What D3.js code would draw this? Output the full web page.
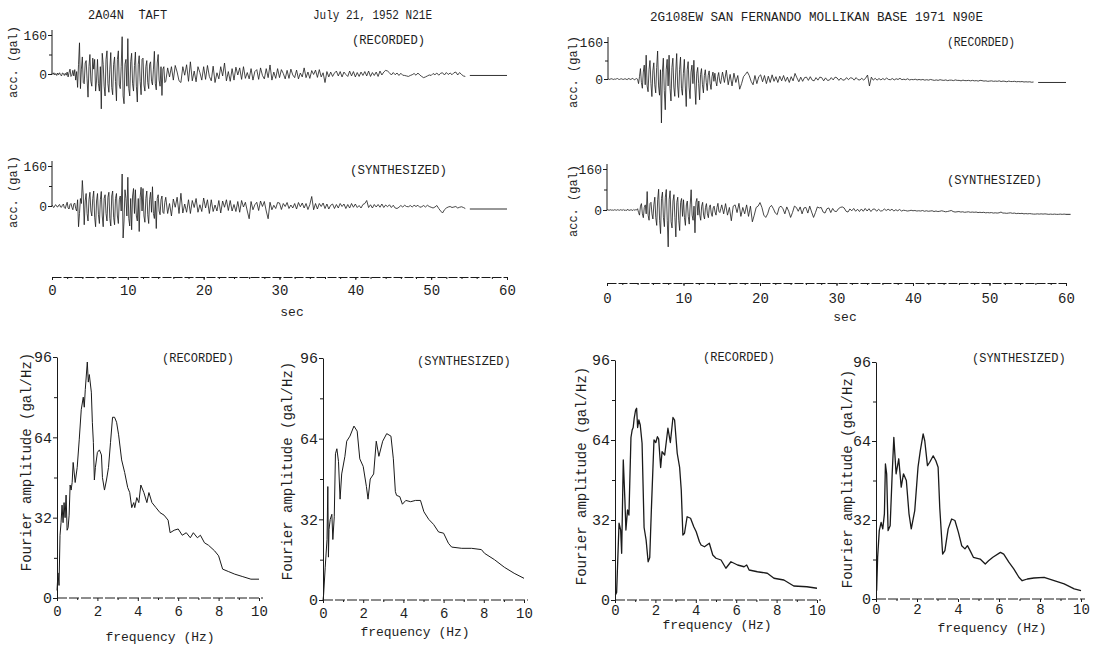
<!DOCTYPE html>
<html><head><meta charset="utf-8">
<script src="https://cdn.jsdelivr.net/npm/d3@7"></script>
<style>
body{margin:0;background:#fff}
svg text{font-family:"Liberation Mono","DejaVu Sans Mono",monospace;fill:#1e1e1e;white-space:pre}
</style></head><body>
<svg id="fig" width="1117" height="645"></svg>
<script>
// ---- axis ticks ----
const timeTicks = [0, 10, 20, 30, 40, 50, 60];
const timeMinor = d3.range(0, 61, 2);
const accTicks = [0, 160];
const accMinor = [80];
const freqTicks = [0, 2, 4, 6, 8, 10];
const freqMinor = [1, 3, 5, 7, 9];
const ampTicks = [0, 32, 64, 96];
const ampMinor = [16, 48, 80];

// ---- accelerograms (gal) ----
// strong phase: every 0.125 s from t = 0; coda: every 0.25 s from t = 15 s
const dtStrong = 0.125, dtCoda = 0.25, codaStart = 15;

const taftRecStrong = [
  3,-2,5,-4,2,-6,4,-3,  5,-3,-8,4,2,-6,3,-5,  8,-12,6,20,-10,-5,15,-8,
  18,-25,10,-55,40,128,-60,20,  70,-35,-40,45,55,-20,-95,30,  80,-30,-50,65,20,60,-70,-25,
  60,-40,-70,30,-143,85,40,-50,  -90,60,95,-40,-75,20,88,-55,  -85,40,70,-30,-110,60,95,-45,
  -60,30,153,-90,-122,40,60,-50,  145,-60,-90,50,85,-40,-70,35,  90,-50,-115,40,75,-30,-85,60,
  65,-45,-70,30,55,-35,-60,40,  50,-30,-45,20,93,-40,-65,45,  80,-25,-50,30,-88,20,30,-35
];
const taftRecCoda = [
  -30,25,-12,30, -25,35,8,-28, -35,30,-5,38, -30,50,-28,12, -32,30,6,-25,
  30,-22,35,-10, -28,32,-35,5, -20,30,-8,45, -28,10,-30,22, -25,28,-4,25,
  -22,30,-18,6, -20,22,-25,10, 18,-22,25,-6, -20,22,-15,37, -25,8,-18,22,
  -15,18,2,-20, 15,-18,20,-4, -15,16,-20,4, -12,25,-15,8, -18,14,-2,16,
  -14,18,-12,5, -35,10,-12,8, -10,4,12,-8, 10,-12,8,-2, -10,12,-8,10,
  -12,6,-10,8, -6,10,-8,12, -10,6,-6,8, -10,12,-4,8, 15,12,5,-4,
  6,-3,4,-6, 3,-5,-6,-8, -10,-6,-3,2, -5,4,-4,-10, -15,-12,-8,-4,
  -6,2,-3,4, -5,3,5,-4, 6,-2,4,-3, 5,8,-4,6, -2,-8,-10
];
const taftRecTail = -6;

const taftSynStrong = [
  4,-3,-6,2,5,-2,-4,3,  6,-4,-5,3,8,-6,-10,4,  15,-8,-12,6,10,-5,-15,8,
  12,-10,-20,25,-83,-30,30,10,  102,40,-75,20,50,-30,-60,25,  55,-20,-40,30,60,-45,-83,20,
  50,-35,-70,25,58,-40,-83,30,  45,-30,-60,35,55,-50,-80,40,  60,-45,-75,30,50,-40,-70,25,
  40,-20,128,-128,-60,65,30,-40,  115,-50,-80,30,-95,40,70,-30,  65,-40,-60,30,-102,35,75,-20,
  70,-40,-65,30,60,-35,-70,25,  55,-25,77,-30,-50,20,-90,30,  45,-20,-35,25,40,-25,-30,15
];
const taftSynCoda = [
  35,-30,10,-40, 28,-5,35,-30, 51,-28,8,-25, 25,-30,22,-6, 30,-25,5,-22,
  32,-8,25,-30, 25,-22,4,-20, 22,-28,20,-5, 25,-18,22,-20, 6,-22,18,-25,
  22,-4,15,-20, -51,18,-15,5, 15,-18,20,-2, 18,-20,-51,15, -15,3,-10,14,
  12,-14,10,-2, 14,-10,4,-8, 10,-12,14,-3, 12,-8,10,-14, 6,38,-15,10,
  -12,10,-2,12, -10,8,-12,3, 8,-10,6,-8, 10,-2,8,-10, 6,-8,10,-5,
  8,-6,2,-8, 6,10,22,-6, 5,-8,6,-4, 6,-5,8,-6, 4,-3,5,-6,
  3,-8,-10,-5, 2,-4,3,-2, -3,2,-4,3, -2,3,-5,-3, 2,-4,3,-2,
  -5,-8,-4,2, -10,-20,-28,-15, -8,-4,-2,-6, -4,-2,-8,-5, -3,-6,-10
];
const taftSynTail = -12;

const sfRecStrong = [
  0,-1,-2,1,1,-1,-2,0,  -1,1,2,-1,-2,0,1,-1,  -2,0,1,-1,-3,1,2,-1,
  -2,1,3,-2,-3,0,2,-1,  -20,10,45,-15,-40,30,60,-25,  103,-30,-55,40,80,-20,-76,35,
  70,-25,-60,50,121,-30,-70,40,  -190,30,90,-50,-133,40,85,-30,  103,-40,-95,50,90,-35,-75,30,
  110,-30,-80,40,95,-40,-70,25,  85,-30,-119,40,75,-35,-85,30,  60,-20,81,-30,-110,25,50,-20,
  -90,20,45,-25,-60,15,40,-15,  -50,15,35,-20,-45,10,30,-10,  25,-10,-30,10,28,-8,-20,5
];
const sfRecCoda = [
  30,-15,38,-25, 20,-30,25,-15, 15,-44,-20,10, 20,31,15,-10, -25,15,-20,10,
  18,-12,15,-20, 12,-15,18,-10, 10,-15,12,-8, 15,-10,8,-15, 10,-8,24,5,
  -12,8,-10,6, 8,-6,10,-5, -8,6,-5,8, 6,-8,5,-6, -5,6,-4,8,
  5,-6,4,-5, -4,6,-3,5, 4,-5,6,-3, -4,3,-5,4, 17,-30,8,-5,
  3,-5,2,-4, 2,-3,4,-2, -3,2,-4,1, -2,3,-3,-1, -3,1,-4,-2,
  -3,-1,-4,-2, -4,-2,-5,-3, -5,-2,-4,-6, -4,-6,-3,-5, -6,-4,-7,-5,
  -5,-7,-4,-6, -6,-8,-5,-7, -7,-6,-8,-6, -8,-7,-9,-6, -7,-9,-8,-10,
  -9,-8,-10,-9, -10,-8,-11,-9, -10,-12,-9,-11, -11,-10,-12,-11, -12,-11,-13,-12,
  -13,-12,-14,-13
];
const sfRecTail = -15;

const sfSynStrong = [
  0,1,-1,0,1,-1,0,-1,  1,0,-1,1,0,-1,1,0,  -1,2,-2,1,-3,2,1,-1,
  -1,1,0,-2,2,-1,1,0,  5,-10,-20,15,25,-15,-30,10,  20,-15,72,-20,-40,25,30,-15,
  -35,20,50,-30,-60,40,81,-40,  -92,45,70,-30,-65,50,80,-40,  -144,40,75,-45,-70,35,60,-30,
  -105,30,50,-40,-80,30,45,-25,  40,-30,-60,20,35,-25,-55,20,  79,-20,-40,15,-89,30,45,-20,
  35,-20,-40,15,30,-20,-35,10,  25,-15,-30,10,20,-12,-25,8,  15,-8,-20,10,26,-5,-10,5
];
const sfSynCoda = [
  20,-15,25,-20, 10,-42,15,20, -10,26,-25,10, -15,20,-25,15, -46,-20,10,15,
  29,10,-20,-29, -15,10,18,5, -12,-18,10,15, 5,-15,12,-5, -29,-10,15,10,
  -5,12,-15,8, 10,-12,15,-8, -29,-10,12,8, 10,-8,-12,5, 8,-10,6,-5,
  -6,5,10,12, 8,-5,-8,4, -3,6,-5,3, -6,4,-5,6, -4,5,-6,3,
  4,-5,3,-4, -3,4,-2,3, -2,3,-4,1, -3,2,-4,-1, -2,-4,-3,-1,
  -3,-2,-4,-3, -4,-2,-5,-3, -5,-4,-3,-6, -4,-6,-5,-3, -5,-7,-6,-4,
  -2,-6,-8,-7, -6,-8,-7,-9, -8,-7,-9,-8, -9,-8,-10,-9, -10,-9,-11,-10,
  -11,-10,-12,-11, -12,-11,-8,-12, -12,-13,-12,-11, -13,-12,-14,-13, -14,-13,-15,-14,
  -15,-14,-15,-16, -16,-15,-16,-15, -16,-15,-16,-17, -16,-17,-16,-17, -17,-16,-17,-16, -17
];
const sfSynTail = -17;

// ---- Fourier amplitude spectra: [frequency (Hz), amplitude (gal/Hz)] ----
const taftRecSpectrum = [
  [0,3],[0.05,10],[0.1,5],[0.15,25],[0.2,30],[0.25,37],[0.3,30],[0.35,38],[0.4,32],[0.45,41],
  [0.5,27],[0.55,28],[0.6,33],[0.65,45],[0.7,43],[0.75,46],[0.8,54],[0.9,46],[1.0,52],[1.1,63],
  [1.2,75],[1.3,80],[1.35,76],[1.4,83],[1.5,94],[1.55,86],[1.6,89],[1.7,82],[1.75,70],[1.8,62],
  [1.85,47],[1.9,52],[2.0,58],[2.1,59],[2.2,57],[2.25,48],[2.35,43],[2.45,47],[2.55,52],[2.65,62],
  [2.75,72],[2.85,72],[2.95,70],[3.05,65],[3.2,55],[3.35,50],[3.5,44],[3.6,42],[3.7,36],[3.8,38],
  [3.85,36],[3.95,40],[4.05,38],[4.15,45],[4.3,42],[4.45,38],[4.55,42],[4.7,38],[4.9,36],[5.1,34],
  [5.3,33],[5.5,31],[5.6,26],[5.8,27],[6.0,27.5],[6.2,25],[6.4,26],[6.6,24],[6.75,26],[6.95,24],
  [7.1,25],[7.3,22],[7.5,21],[7.8,18.8],[8.0,16.8],[8.2,11.5],[8.5,10.5],[8.8,9.5],[9.2,8.5],[9.6,7.5],
  [10.0,7.5]
];
const taftSynSpectrum = [
  [0,0],[0.03,2],[0.11,13],[0.2,24],[0.24,45],[0.27,17],[0.3,28],[0.36,32],[0.44,34],[0.49,24],
  [0.56,33],[0.62,58],[0.69,60],[0.77,55],[0.85,40],[0.93,50],[1.09,57],[1.18,63],[1.34,65],[1.54,69],
  [1.7,67],[1.83,56],[2.0,53],[2.16,45],[2.24,40],[2.35,48],[2.52,50],[2.65,63],[2.78,57],[2.97,63],
  [3.17,66],[3.38,65],[3.5,56],[3.6,43],[3.66,41.5],[3.82,41],[3.95,38],[4.12,39.5],[4.36,39],[4.6,39.5],
  [4.85,39.5],[5.02,35],[5.26,32],[5.5,30],[5.75,27],[6.0,26.5],[6.24,22.5],[6.4,21],[6.9,20.5],[7.39,20.5],
  [7.88,20],[8.04,18.5],[8.53,16],[9.02,13],[9.51,10.6],[10.0,8.6]
];
const sfRecSpectrum = [
  [0.02,2],[0.08,3],[0.2,30.7],[0.28,28],[0.33,18.7],[0.41,56],[0.49,40],[0.54,28],[0.62,36],[0.69,34],
  [0.79,65],[0.85,68],[0.9,69],[0.95,72.7],[1.02,76],[1.07,76.7],[1.12,69],[1.18,72],[1.25,70],[1.34,62.7],
  [1.44,29],[1.54,24],[1.64,15.3],[1.72,17],[1.8,36],[1.93,64],[2.02,63],[2.1,65.3],[2.16,64.5],[2.26,53],
  [2.33,59.3],[2.46,58],[2.62,68.7],[2.74,63],[2.87,73],[2.95,72],[3.08,58.7],[3.2,53],[3.28,44],[3.36,26],
  [3.44,26.7],[3.57,33.3],[3.74,32.7],[3.9,29.3],[4.02,27.3],[4.18,23.3],[4.26,22],[4.43,21.3],[4.67,22.7],[4.84,18],
  [5.0,16.7],[5.25,16],[5.49,12.7],[5.74,15.3],[6.07,14],[6.39,13.3],[6.52,14],[6.64,12],[7.05,11.3],[7.54,10.7],
  [7.87,8.7],[8.36,8],[8.85,5.6],[9.5,5.3],[10,4.7]
];
const sfSynSpectrum = [
  [0.03,3.4],[0.08,17],[0.16,27.7],[0.25,31],[0.33,28.4],[0.41,34.5],[0.46,54.7],[0.52,50.7],[0.59,27.7],[0.69,29.7],
  [0.79,50.7],[0.87,65.5],[0.98,50.7],[1.11,56.8],[1.23,45.3],[1.34,50.7],[1.48,48],[1.61,34.5],[1.72,28.4],[1.89,35.8],
  [2.05,53.4],[2.16,60],[2.3,66.9],[2.38,64],[2.51,54],[2.62,55.4],[2.79,58],[2.92,56],[3.03,53.4],[3.11,37],
  [3.25,18.2],[3.36,19.6],[3.52,28.4],[3.69,32.4],[3.85,31.8],[4.02,27],[4.18,21.6],[4.34,20.3],[4.46,21.6],[4.59,19.6],
  [4.75,16.9],[5.08,16.2],[5.33,14.2],[5.49,15.5],[5.7,16.9],[6.07,18.9],[6.23,18.2],[6.48,14.9],[6.72,12.2],[6.97,8.8],
  [7.13,7.4],[7.38,8.1],[7.7,8.5],[8.2,8.8],[8.69,7.4],[9.18,6.1],[9.67,4.1],[10,3.4]
];

// ---- drawing ----
const svg = d3.select("#fig");
const INK = "#1a1a1a";
const FONT = '"Liberation Mono","DejaVu Sans Mono",monospace';

function label(x, y, txt, size, opts = {}) {
  const t = svg.append("text")
    .attr("x", x).attr("y", y)
    .attr("font-size", size)
    .attr("text-anchor", opts.anchor || "start")
    .text(txt);
  if (opts.rotate) t.attr("transform", `rotate(-90,${x},${y})`);
  if (opts.len) t.attr("textLength", opts.len).attr("lengthAdjust", "spacingAndGlyphs");
  return t;
}

function styleAxis(g, size) {
  g.attr("font-family", FONT).attr("font-size", size);
  g.selectAll("path,line").attr("stroke", INK).attr("stroke-width", 1);
  g.selectAll("text").attr("fill", "#1e1e1e");
}

function series(strong, coda) {
  return strong.map((v, i) => [i * dtStrong, v])
    .concat(coda.map((v, i) => [codaStart + i * dtCoda, v]));
}

function drawTrace(p, pts, tail) {
  const x = d3.scaleLinear().domain([0, 60]).range([p.x0, p.x1]);
  const y = d3.scaleLinear().domain([0, 160]).range([p.y0, p.y160]);
  const line = d3.line().x(d => x(d[0])).y(d => y(d[1]));
  svg.append("path").attr("d", line(pts))
    .attr("fill", "none").attr("stroke", INK).attr("stroke-width", 0.8);
  const tEnd = pts[pts.length - 1][0];
  svg.append("path").attr("d", line([[tEnd + 0.6, tail], [60, tail]]))
    .attr("fill", "none").attr("stroke", INK).attr("stroke-width", 0.9);

  const ax = svg.append("g").attr("transform", `translate(${p.x0},0)`)
    .call(d3.axisLeft(y).tickValues(accTicks).tickSize(4).tickSizeOuter(0).tickPadding(1));
  styleAxis(ax, 13);
  ax.select(".domain").attr("d", `M0,${p.y0}V${p.y160 - 5}`);
  const mn = svg.append("g").attr("transform", `translate(${p.x0},0)`)
    .call(d3.axisLeft(y).tickValues(accMinor).tickSize(3).tickFormat(""));
  mn.select(".domain").remove();
  styleAxis(mn, 13);
  label(p.labX, p.labY, "acc. (gal)", 12, { anchor: "middle", rotate: true });
}

function drawTimeAxis(p) {
  const x = d3.scaleLinear().domain([0, 60]).range([p.x0, p.x1]);
  const g = svg.append("g").attr("transform", `translate(0,${p.y})`)
    .call(d3.axisBottom(x).tickValues(timeTicks).tickSize(3).tickSizeOuter(0).tickPadding(p.pad));
  styleAxis(g, 14);
  g.select(".domain").attr("stroke-dasharray", "9,2");
  const mn = svg.append("g").attr("transform", `translate(0,${p.y})`)
    .call(d3.axisBottom(x).tickValues(timeMinor).tickSize(2).tickFormat(""));
  mn.select(".domain").remove();
  styleAxis(mn, 14);
  label(p.secX, p.secY, "sec", 13, { anchor: "middle" });
}

function drawSpectrum(p, data, title) {
  const x = d3.scaleLinear().domain([0, 10]).range([p.x0, p.x1]);
  const y = d3.scaleLinear().domain([0, 96]).range([p.y0, p.y96]);
  const gx = svg.append("g").attr("transform", `translate(0,${p.y0})`)
    .call(d3.axisBottom(x).tickValues(freqTicks).tickSize(3).tickSizeOuter(0).tickPadding(p.pad));
  styleAxis(gx, 14);
  gx.select(".domain").attr("d", `M${p.x0},0H${p.x1 + 4}`).attr("stroke-dasharray", "10,2");
  const gxm = svg.append("g").attr("transform", `translate(0,${p.y0})`)
    .call(d3.axisBottom(x).tickValues(freqMinor).tickSize(2).tickFormat(""));
  gxm.select(".domain").remove();
  styleAxis(gxm, 14);

  const gy = svg.append("g").attr("transform", `translate(${p.x0},0)`)
    .call(d3.axisLeft(y).tickValues(ampTicks).tickSize(4).tickSizeOuter(0).tickPadding(1));
  styleAxis(gy, 15);
  const gym = svg.append("g").attr("transform", `translate(${p.x0},0)`)
    .call(d3.axisLeft(y).tickValues(ampMinor).tickSize(3).tickFormat(""));
  gym.select(".domain").remove();
  styleAxis(gym, 15);

  const line = d3.line().x(d => x(d[0])).y(d => y(d[1]));
  svg.append("path").attr("d", line(data))
    .attr("fill", "none").attr("stroke", INK).attr("stroke-width", p.w)
    .attr("stroke-linejoin", "round");

  label(p.tx, p.ty, title, 12);
  label(p.fx, p.fy, "frequency (Hz)", 13, { anchor: "middle" });
  label(p.ax, p.ay, "Fourier amplitude (gal/Hz)", 14, { anchor: "middle", rotate: true });
}

// titles
label(88, 19, "2A04N  \u1E6AAFT", 12);
label(313, 19, "July 21, 1952 N21E", 12, { len: 119 });
label(650, 21, "2G108EW SAN FERNANDO MOLLIKAN BASE 1971 N90E", 12, { len: 333 });
label(352, 44, "(RECORDED)", 12, { len: 73 });
label(947, 46, "(RECORDED)", 12, { len: 68 });
label(350, 174, "(SYNTHESIZED)", 12, { len: 97 });
label(947, 184, "(SYNTHESIZED)", 12, { len: 95 });

// accelerograms
drawTrace({ x0: 52, x1: 507, y0: 74, y160: 35, labX: 17, labY: 62 },
  series(taftRecStrong, taftRecCoda), taftRecTail);
drawTrace({ x0: 52, x1: 507, y0: 206, y160: 166, labX: 17, labY: 192 },
  series(taftSynStrong, taftSynCoda), taftSynTail);
drawTrace({ x0: 608, x1: 1066, y0: 79, y160: 42, labX: 577, labY: 72 },
  series(sfRecStrong, sfRecCoda), sfRecTail);
drawTrace({ x0: 607, x1: 1066, y0: 210, y160: 169, labX: 577, labY: 201 },
  series(sfSynStrong, sfSynCoda), sfSynTail);

drawTimeAxis({ x0: 52, x1: 507, y: 277, pad: 5, secX: 292, secY: 316 });
drawTimeAxis({ x0: 607, x1: 1066, y: 283, pad: 7, secX: 845, secY: 321 });

// spectra
drawSpectrum({ x0: 57, x1: 259, y0: 598, y96: 357, pad: 5, w: 1.0,
  tx: 162, ty: 362, fx: 160, fy: 641, ax: 31, ay: 462 }, taftRecSpectrum, "(RECORDED)");
drawSpectrum({ x0: 323, x1: 524, y0: 600, y96: 358, pad: 5, w: 1.0,
  tx: 417, ty: 365, fx: 415, fy: 636, ax: 292, ay: 471 }, taftSynSpectrum, "(SYNTHESIZED)");
drawSpectrum({ x0: 615, x1: 817, y0: 600, y96: 360, pad: 2, w: 1.3,
  tx: 703, ty: 361, fx: 717, fy: 629, ax: 586, ay: 476 }, sfRecSpectrum, "(RECORDED)");
drawSpectrum({ x0: 876, x1: 1081, y0: 599, y96: 362, pad: 2, w: 1.3,
  tx: 972, ty: 362, fx: 992, fy: 632, ax: 852, ay: 479 }, sfSynSpectrum, "(SYNTHESIZED)");
</script>
</body></html>
